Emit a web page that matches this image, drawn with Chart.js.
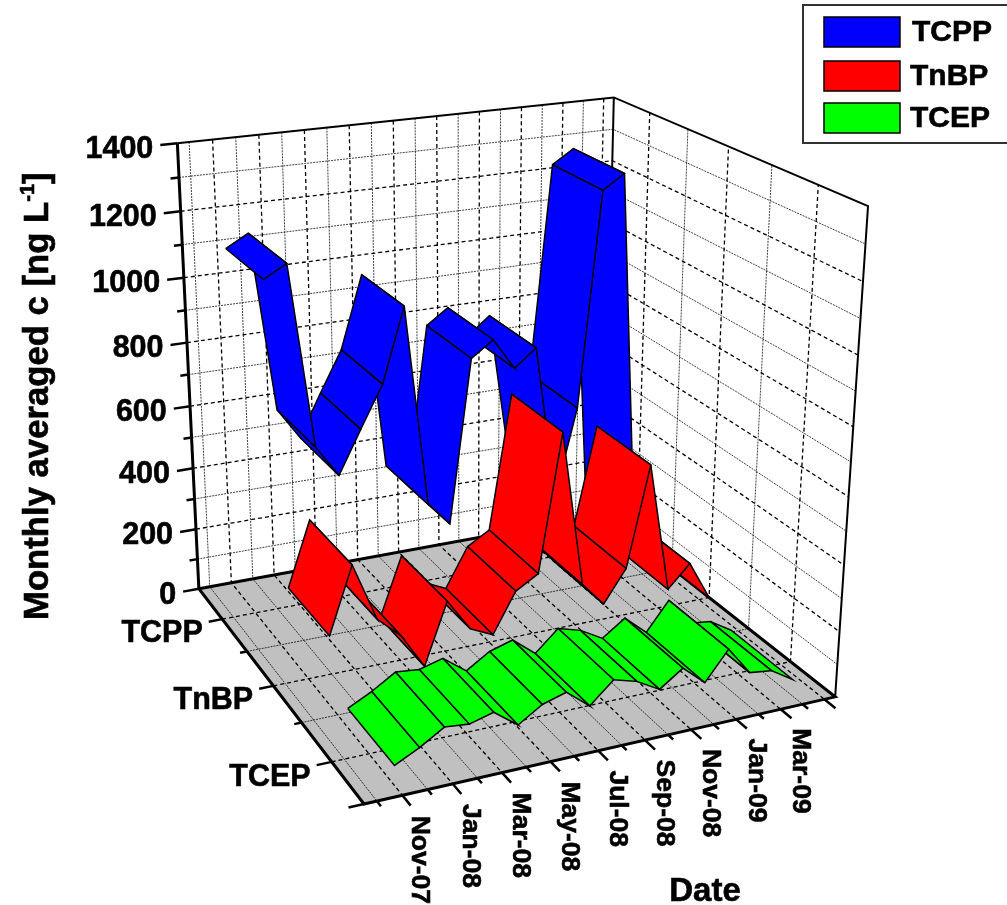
<!DOCTYPE html>
<html>
<head>
<meta charset="utf-8">
<style>
  html, body { margin: 0; padding: 0; background: #fff; }
  canvas { display: block; }
</style>
<script src="https://cdn.jsdelivr.net/npm/chart.js@4/dist/chart.umd.min.js"></script>
</head>
<body>
<canvas id="chart" width="1007" height="905"></canvas>
<script>
const months = ['Nov-07', 'Dec-07', 'Jan-08', 'Feb-08', 'Mar-08', 'Apr-08', 'May-08', 'Jun-08', 'Jul-08',
    'Aug-08', 'Sep-08', 'Oct-08', 'Nov-08', 'Dec-08', 'Jan-09', 'Feb-09', 'Mar-09', 'Apr-09'];
const tcpp = [1092, 1130, 572, 472, 604, 732, 959, 332, 256, 770, 818, 719, 773, 288, 561, 1228, 1271, 60];
const tnbp = [209, 408, 232, 167, 58, 245, 146, 113, 235, 276, 692, 216, 140, 239, 548, 146, 215, 91];
const tcep = [51, 87, 131, 124, 143, 90, 135, 156, 100, 163, 143, 104, 153, 94, 181, 95, 86, 44];
const seriesNames = ['TCPP', 'TnBP', 'TCEP'];
const seriesColors = ['#0000ff', '#ff0000', '#00ff00'];
const valueTicks = [0, 200, 400, 600, 800, 1000, 1200, 1400];

const Z_MAX = 1400;
const MONTH_SLOTS = 20;
const RIBBON_HALF = 0.12;
const RIBBON_SHIFT = 0.004;

// box corners on the page: [x, y, z, pageX, pageY], x = date, y = compound, z = value
const CORNERS = [
    [0, 0, 0, 200, 589], [1, 0, 0, 602, 515], [1, 1, 0, 837, 696], [0, 1, 0, 363, 804],
    [0, 0, 1, 177, 143], [1, 0, 1, 615, 97], [1, 1, 1, 867, 207]
];

function solveLinear(m, v) {
    const n = v.length;
    for (let i = 0; i < n; i++) {
        let p = i;
        for (let r = i + 1; r < n; r++) if (Math.abs(m[r][i]) > Math.abs(m[p][i])) p = r;
        [m[i], m[p]] = [m[p], m[i]];
        [v[i], v[p]] = [v[p], v[i]];
        for (let r = i + 1; r < n; r++) {
            const f = m[r][i] / m[i][i];
            for (let c = i; c < n; c++) m[r][c] -= f * m[i][c];
            v[r] -= f * v[i];
        }
    }
    const out = new Array(n).fill(0);
    for (let i = n - 1; i >= 0; i--) {
        let s = v[i];
        for (let c = i + 1; c < n; c++) s -= m[i][c] * out[c];
        out[i] = s / m[i][i];
    }
    return out;
}

// least squares camera fit, pixels scaled down so the normal equations stay sane
function fitCamera(corners) {
    const rows = [], rhs = [];
    corners.forEach(([x, y, z, px, py]) => {
        const u = px / 1000, v = py / 1000;
        rows.push([x, y, z, 1, 0, 0, 0, 0, -u * x, -u * y, -u * z]); rhs.push(u);
        rows.push([0, 0, 0, 0, x, y, z, 1, -v * x, -v * y, -v * z]); rhs.push(v);
    });
    const ata = [], atb = [];
    for (let i = 0; i < 11; i++) {
        ata.push(new Array(11).fill(0));
        atb.push(0);
        rows.forEach((r, k) => {
            for (let j = 0; j < 11; j++) ata[i][j] += r[i] * r[j];
            atb[i] += r[i] * rhs[k];
        });
    }
    return solveLinear(ata, atb);
}

const cam = fitCamera(CORNERS);

function project(x, y, z) {
    const w = cam[8] * x + cam[9] * y + cam[10] * z + 1;
    return {
        x: 1000 * (cam[0] * x + cam[1] * y + cam[2] * z + cam[3]) / w,
        y: 1000 * (cam[4] * x + cam[5] * y + cam[6] * z + cam[7]) / w
    };
}

const monthPos = i => (i + 1.5) / MONTH_SLOTS;
const seriesPos = s => (s + 0.5) / seriesNames.length;

const marks = [];

function addLine(points, color, width, dash) {
    marks.push({
        data: points, showLine: true, fill: false, pointRadius: 0,
        borderColor: color, borderWidth: width, borderDash: dash || [], tension: 0
    });
}

function addPoly(points, fillColor, borderColor, width) {
    marks.push({
        data: points.concat([points[0]]), showLine: true, fill: 'shape', pointRadius: 0, tension: 0,
        backgroundColor: fillColor, borderColor: borderColor, borderWidth: width, borderJoinStyle: 'miter'
    });
}

const MAJOR = ['#000', 1.3, [4, 3]];
const MINOR = ['rgba(0,0,0,0.75)', 1, [2, 1]];

// floor
addPoly([project(0, 0, 0), project(1, 0, 0), project(1, 1, 0), project(0, 1, 0)], '#c0c0c0', '#c0c0c0', 0);

// grid along the dates, back wall and floor
for (let m = -1; m <= 18; m++) {
    const x = monthPos(m);
    const st = (m + 2) % 2 === 0 ? MAJOR : MINOR;
    addLine([project(x, 0, 1), project(x, 0, 0), project(x, 1, 0)], st[0], st[1], st[2]);
}
// grid along the compounds, floor and side wall
for (let k = 1; k < 6; k++) {
    const y = k / 6;
    const st = k % 2 === 1 ? MAJOR : MINOR;
    addLine([project(0, y, 0), project(1, y, 0), project(1, y, 1)], st[0], st[1], st[2]);
}
// grid along the values, back wall and side wall
for (let v = 100; v < Z_MAX; v += 100) {
    const z = v / Z_MAX;
    const st = v % 200 === 0 ? MAJOR : MINOR;
    addLine([project(0, 0, z), project(1, 0, z), project(1, 1, z)], st[0], st[1], st[2]);
}

// box edges
addLine([project(0, 0, 1), project(1, 0, 1), project(1, 1, 1), project(1, 1, 0)], '#000', 2);
addLine([project(1, 0, 1), project(1, 0, 0)], '#000', 2);
addLine([project(0, 0, 1), project(0, 0, 0), project(0, 1, 0), project(1, 1, 0), project(1, 0, 0), project(0, 0, 0)], '#000', 3);

// axis ticks
valueTicks.concat([100, 300, 500, 700, 900, 1100, 1300]).forEach(v => {
    const ext = v % 200 === 0 ? 0.036 : 0.018;
    addLine([project(0, 0, v / Z_MAX), project(-ext, 0, v / Z_MAX)], '#000', 2.5);
});
for (let k = 1; k <= 6; k++) {
    const ext = k % 2 === 1 || k === 6 ? 0.03 : 0.015;
    addLine([project(0, k / 6, 0), project(-ext, k / 6, 0)], '#000', 2.5);
}
for (let m = -1; m <= 18; m++) {
    const ext = (m + 2) % 2 === 0 ? 0.04 : 0.02;
    addLine([project(monthPos(m), 1, 0), project(monthPos(m), 1 + ext, 0)], '#000', 2.5);
}

// ribbons, back series first, far end of each ribbon first
[tcpp, tnbp, tcep].forEach((values, s) => {
    const y0 = seriesPos(s) - RIBBON_HALF, y1 = seriesPos(s) + RIBBON_HALF;
    for (let i = values.length - 2; i >= 0; i--) {
        const za = values[i] / Z_MAX, zb = values[i + 1] / Z_MAX;
        const xa = monthPos(i) + RIBBON_SHIFT, xb = monthPos(i + 1) + RIBBON_SHIFT;
        addPoly([project(xa, y0, za), project(xb, y0, zb), project(xb, y1, zb), project(xa, y1, za)],
            seriesColors[s], '#000', 1.5);
    }
});

// chart.js paints lower order on top
marks.forEach((d, i) => { d.order = marks.length - i; });

const labelPlugin = {
    id: 'labels3d',
    afterDraw(chart) {
        const { ctx, scales } = chart;
        const px = p => scales.x.getPixelForValue(p.x);
        const py = p => scales.y.getPixelForValue(p.y);
        const FONT = '"Liberation Sans", Arial, sans-serif';
        // the original type is a little heavier than Liberation bold
        const heavy = (text, x, y) => {
            ctx.fillText(text, x, y);
            ctx.strokeText(text, x, y);
        };
        ctx.save();
        ctx.fillStyle = '#000';
        ctx.strokeStyle = '#000';
        ctx.lineWidth = 0.6;
        ctx.textBaseline = 'middle';

        ctx.font = 'bold 30.5px ' + FONT;
        ctx.textAlign = 'right';
        valueTicks.forEach(v => {
            const p = project(-0.036, 0, v / Z_MAX);
            heavy(String(v), px(p) - 7, py(p) + 4);
        });
        seriesNames.forEach((name, s) => {
            const p = project(-0.03, seriesPos(s), 0);
            heavy(name, px(p) - 6, py(p) + 12);
        });

        ctx.font = 'bold 26.5px ' + FONT;
        ctx.textAlign = 'left';
        months.forEach((name, i) => {
            if (i % 2 !== 0) return;
            const p = project(monthPos(i), 1.04, 0);
            ctx.save();
            ctx.translate(px(p) + 9, py(p) + 10);
            ctx.rotate(Math.PI / 2);
            heavy(name, 0, 0);
            ctx.restore();
        });

        ctx.font = 'bold 33px ' + FONT;
        ctx.textAlign = 'center';
        heavy('Date', 705, 892);

        // y title with superscript
        ctx.save();
        ctx.translate(48, 620);
        ctx.rotate(-Math.PI / 2);
        ctx.textAlign = 'left';
        ctx.textBaseline = 'alphabetic';
        ctx.font = 'bold 34.7px ' + FONT;
        const main = 'Monthly averaged c [ng L';
        heavy(main, 0, 0);
        let adv = ctx.measureText(main).width;
        ctx.font = 'bold 20px ' + FONT;
        heavy('-1', adv, -14);
        adv += ctx.measureText('-1').width;
        ctx.font = 'bold 34.7px ' + FONT;
        heavy(']', adv, 0);
        ctx.restore();

        // legend
        ctx.strokeStyle = '#333';
        ctx.lineWidth = 2;
        ctx.strokeRect(803, 5, 220, 138);
        const swatchY = [17, 61, 103];
        const textX = [912, 910, 910];
        ctx.font = 'bold 30px ' + FONT;
        ctx.textAlign = 'left';
        seriesNames.forEach((name, s) => {
            ctx.fillStyle = seriesColors[s];
            ctx.fillRect(824, swatchY[s], 76, 30);
            ctx.strokeStyle = '#000';
            ctx.lineWidth = 1.5;
            ctx.strokeRect(824, swatchY[s], 76, 30);
            ctx.fillStyle = '#000';
            ctx.lineWidth = 0.6;
            heavy(name, textX[s], swatchY[s] + 16);
        });
        ctx.restore();
    }
};

new Chart(document.getElementById('chart'), {
    type: 'scatter',
    data: { datasets: marks },
    options: {
        responsive: false,
        animation: false,
        layout: { padding: 0 },
        plugins: { legend: { display: false }, tooltip: { enabled: false } },
        scales: {
            x: { type: 'linear', min: 0, max: 1007, display: false },
            y: { type: 'linear', min: 0, max: 905, reverse: true, display: false }
        }
    },
    plugins: [labelPlugin]
});
</script>
</body>
</html>
